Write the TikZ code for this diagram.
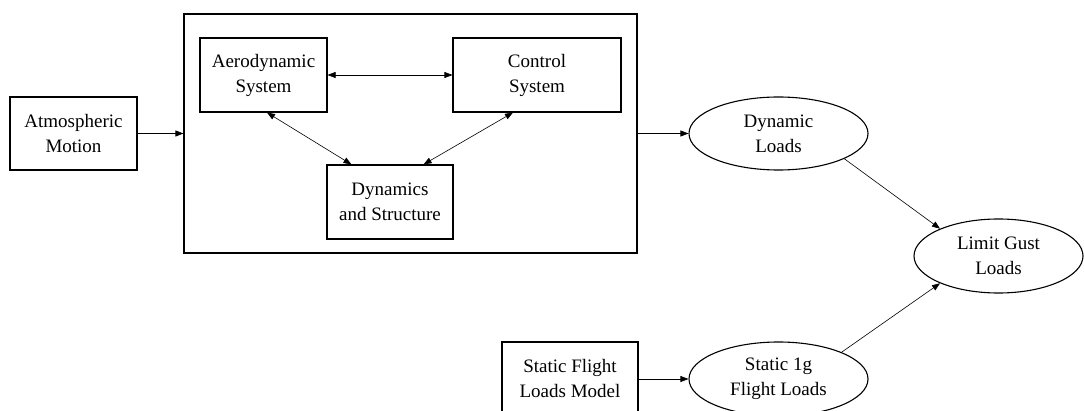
\documentclass[tikz,border=0pt]{standalone}
\usepackage{fontspec}
\setmainfont{Liberation Serif}
\usetikzlibrary{shapes.geometric,arrows.meta,calc}
\begin{document}
\begin{tikzpicture}[x=1pt,y=-1pt,
  every node/.style={font=\fontsize{19}{25}\selectfont, align=center, inner sep=0pt},
  blockbox/.style={draw, line width=1.1pt, rectangle},
  loadoval/.style={draw, line width=1.1pt, ellipse},
  link/.style={line width=0.6pt, -{Triangle[length=8pt,width=6pt]}},
  dlink/.style={line width=0.6pt, {Triangle[length=8pt,width=6pt]}-{Triangle[length=8pt,width=6pt]}}]
\useasboundingbox (0,0) rectangle (1084,411);
\clip (0,0) rectangle (1084,411);
% outer system box
\node[blockbox, minimum width=453pt, minimum height=239pt] (sys) at (410.5,133.5) {};
% blocks
\node[blockbox, minimum width=127pt, minimum height=73pt] (atm) at (73.5,133.5) {Atmospheric\\Motion};
\node[blockbox, minimum width=127pt, minimum height=74pt] (aero) at (263.5,75) {Aerodynamic\\System};
\node[blockbox, minimum width=168pt, minimum height=74pt] (ctrl) at (537,75) {Control\\System};
\node[blockbox, minimum width=126pt, minimum height=74pt] (dyn) at (390,202) {Dynamics\\and Structure};
\node[blockbox, minimum width=136pt, minimum height=74pt] (sflm) at (570,379) {Static Flight\\Loads Model};
% load ellipses
\node[loadoval, minimum width=179pt, minimum height=73pt] (dload) at (778.5,133.5) {Dynamic\\Loads};
\node[loadoval, minimum width=169pt, minimum height=74pt] (limit) at (998.5,256) {Limit Gust\\Loads};
\node[loadoval, minimum width=179pt, minimum height=74pt] (sload) at (778.5,379) {Static 1g\\Flight Loads};
% connectors
\draw[link] (atm.east) -- (sys.west);
\draw[dlink] (aero.east) -- (ctrl.west);
\draw[dlink] ($(aero.south)+(3.5,0)$) -- ($(dyn.north west)+(25,0)$);
\draw[dlink] ($(ctrl.south)+(-24,0)$) -- ($(dyn.north east)+(-30,0)$);
\draw[link] (sys.east) -- (dload.west);
\draw[link] (sflm.east) -- (sload.west);
\draw[link] (dload.-21.8) -- (limit.155.9);
\draw[link] (sload.23.3) -- (limit.205);
\end{tikzpicture}
\end{document}
